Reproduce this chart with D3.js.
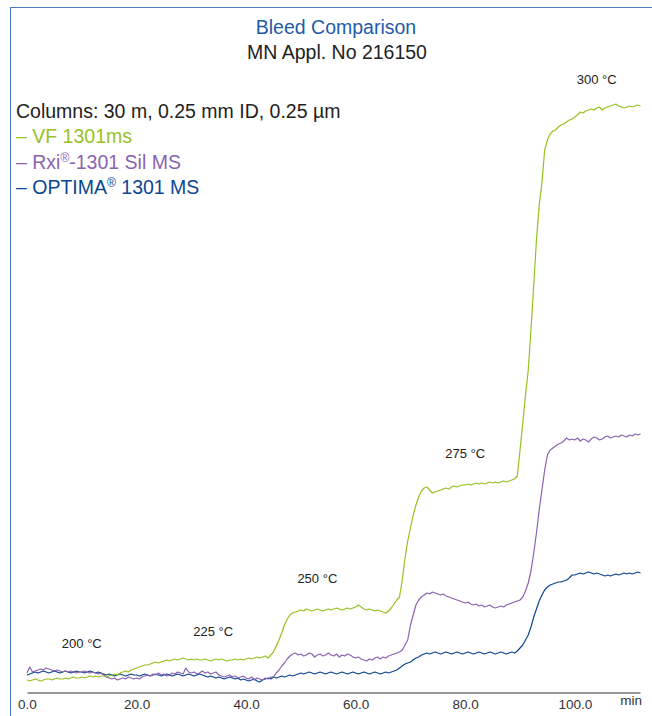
<!DOCTYPE html>
<html>
<head>
<meta charset="utf-8">
<script src="https://cdn.jsdelivr.net/npm/d3@7"></script>
<style>
  html, body { margin: 0; padding: 0; background: #fff; }
  svg { display: block; font-family: "Liberation Sans", Arial, Helvetica, sans-serif; }
</style>
</head>
<body>
<div id="chart"></div>
<script>
// Bleed comparison: three column bleed traces, sampled every 0.5 min (0 .. 112 min)
const STEP = 0.5;
const xTicks = [0, 20, 40, 60, 80, 100];

const vfValues = [
  13,12,13,14,13,12,13,14,14,13, 14,15,14,14,15,14,15,16,15,15,
  16,15,16,17,16,17,16,17,17,16, 17,18,19,18,20,21,22,21,23,24,
  25,26,27,28,28,29,30,31,30,31, 32,33,32,33,34,33,34,35,34,33,
  34,33,34,33,33,34,33,32,33,34, 33,34,33,32,33,33,34,33,34,33,
  34,35,34,35,36,35,36,37,35,38, 41,47,53,60,68,74,78,80,81,82,
  83,82,84,83,82,83,84,83,82,83, 84,83,84,85,84,83,84,85,84,85,
  86,88,86,84,83,84,83,82,83,82, 81,80,82,85,89,93,96,113,135,152,
  165,178,188,196,202,205,206,203,200,201, 202,203,204,205,204,206,207,206,207,208,
  208,209,208,209,210,209,210,209,210,211, 210,211,210,211,212,211,212,213,214,217,
  243,270,298,323,363,408,453,488,510,543, 553,559,562,563,566,568,569,571,573,574,
  576,578,581,580,582,583,584,583,585,586, 583,585,586,587,588,589,587,586,585,586,
  587,586,587,588,587
];

const rxiValues = [
  20,26,21,22,23,24,23,25,24,23, 22,23,22,21,22,21,22,21,20,21,
  21,22,21,20,21,20,19,20,18,16, 15,14,15,13,14,15,14,16,15,14,
  15,14,16,17,18,17,19,18,20,18, 19,17,18,20,19,21,20,19,25,21,
  20,21,19,20,22,20,21,19,20,21, 18,17,16,17,18,16,17,15,16,17,
  15,14,16,13,15,14,13,15,14,16, 16,20,23,27,30,34,37,39,40,38,
  39,37,38,40,39,36,38,39,37,38, 40,38,37,39,36,38,37,39,38,36,
  35,36,34,33,32,34,33,35,36,34, 36,35,37,38,39,40,41,43,48,53,
  68,78,88,93,96,98,100,99,101,100, 99,98,99,97,96,95,94,93,92,91,
  90,91,89,88,89,87,88,86,87,88, 86,85,86,87,86,88,89,90,91,92,
  93,96,102,110,122,140,160,183,203,223, 238,243,245,247,249,250,252,255,253,254,
  253,255,252,254,253,251,254,256,255,253, 254,256,257,255,256,257,256,258,257,256,
  258,257,259,258,259
];

const optimaValues = [
  18,19,20,21,20,21,22,21,20,21, 22,21,20,21,22,21,20,21,22,21,
  21,20,21,22,21,20,21,20,19,18, 19,18,17,18,19,18,17,18,19,18,
  18,17,18,19,18,17,18,19,18,17, 18,19,18,17,18,19,18,17,18,19,
  18,17,18,19,18,17,16,17,16,15, 16,15,14,15,16,15,14,15,13,14,
  13,12,13,14,12,11,13,14,15,14, 16,15,16,17,16,17,18,17,18,19,
  20,19,20,21,20,19,20,21,20,19, 20,21,20,19,20,21,20,19,20,21,
  20,19,20,21,20,19,20,21,20,19, 20,21,20,21,22,23,25,27,29,30,
  31,33,35,36,38,39,40,39,40,41, 40,39,40,41,40,39,40,41,40,39,
  40,41,40,39,40,41,40,39,40,41, 40,39,40,41,40,39,40,41,40,42,
  45,48,53,58,66,76,84,92,98,103, 106,108,109,110,111,111,112,113,115,118,
  118,119,120,119,120,121,120,119,120,119, 118,117,118,117,118,119,118,119,120,119,
  120,119,120,121,120
];

const seriesNames = ['VF 1301ms', 'Rxi-1301 Sil MS', 'OPTIMA 1301 MS'];
const seriesColors = ['#97c11f', '#8b63b0', '#0c4792'];

const tempLabels = ['200 °C', '225 °C', '250 °C', '275 °C', '300 °C'];
const tempAtMin = [10, 34, 53, 80, 104];
const tempAtValue = [45, 57, 110, 235, 609];

const width = 652, height = 716;
const svg = d3.select('#chart').append('svg')
  .attr('width', width).attr('height', height);

// frame (left + top edges only)
svg.append('line').attr('x1', 10.5).attr('x2', 10.5).attr('y1', 7).attr('y2', height)
  .attr('stroke', '#4a7dc0').attr('stroke-width', 1);
svg.append('line').attr('x1', 10).attr('x2', width).attr('y1', 7.5).attr('y2', 7.5)
  .attr('stroke', '#4a7dc0').attr('stroke-width', 1);

const x = d3.scaleLinear().domain([0, 111.9]).range([27, 640]);
const y = d3.scaleLinear().domain([0, 600]).range([693, 93]);

// titles
svg.append('text').attr('x', 336).attr('y', 34).attr('text-anchor', 'middle')
  .attr('font-size', 19.5).attr('fill', '#1f5ba8').text('Bleed Comparison');
svg.append('text').attr('x', 337).attr('y', 59).attr('text-anchor', 'middle')
  .attr('font-size', 19.5).attr('fill', '#222').text('MN Appl. No 216150');

// x axis
const xAxisG = svg.append('g').attr('transform', `translate(0,${y(0) - 0.5})`)
  .call(d3.axisBottom(x).tickValues(xTicks).tickFormat(d3.format('.1f')).tickSize(0).tickPadding(7));
xAxisG.select('.domain').attr('stroke', '#333').attr('stroke-width', 1.2);
xAxisG.selectAll('text').attr('font-size', 13.5).attr('fill', '#333')
  .attr('font-family', '"Liberation Sans", Arial, sans-serif');
svg.append('text').attr('x', 642).attr('y', 705).attr('text-anchor', 'end')
  .attr('font-size', 13.5).attr('fill', '#333').text('min');

// traces
const series = [vfValues, rxiValues, optimaValues].map((vals, i) => ({
  name: seriesNames[i],
  color: seriesColors[i],
  values: vals.map((v, j) => ({ x: j * STEP, y: v }))
}));

const lineGen = d3.line().x(d => x(d.x)).y(d => y(d.y));
svg.append('g').selectAll('path')
  .data(series.slice().reverse())
  .join('path')
  .attr('fill', 'none')
  .attr('stroke', d => d.color)
  .attr('stroke-width', 1.2)
  .attr('stroke-linejoin', 'round')
  .attr('d', d => lineGen(d.values));

// oven temperature annotations
svg.append('g').selectAll('text')
  .data(tempLabels)
  .join('text')
  .attr('x', (d, i) => x(tempAtMin[i]))
  .attr('y', (d, i) => y(tempAtValue[i]))
  .attr('text-anchor', 'middle')
  .attr('font-size', 13)
  .attr('fill', '#222')
  .text(d => d);

// legend block
const leg = svg.append('g').attr('font-size', 19.5);
leg.append('text').attr('x', 16).attr('y', 118).attr('fill', '#222')
  .text('Columns: 30 m, 0.25 mm ID, 0.25 µm');
const legRows = [
  [{ t: '– VF 1301ms' }],
  [{ t: '– Rxi' }, { t: '®', sup: true }, { t: '-1301 Sil MS' }],
  [{ t: '– OPTIMA' }, { t: '®', sup: true }, { t: ' 1301 MS' }]
];
legRows.forEach((parts, i) => {
  const t = leg.append('text').attr('x', 16).attr('y', 143 + i * 25.5)
    .attr('fill', seriesColors[i]);
  parts.forEach(p => {
    const ts = t.append('tspan').text(p.t);
    if (p.sup) ts.attr('font-size', 12).attr('dy', -7);
    else if (t.selectAll('tspan').size() > 1) ts.attr('dy', 7);
  });
});
</script>
</body>
</html>
